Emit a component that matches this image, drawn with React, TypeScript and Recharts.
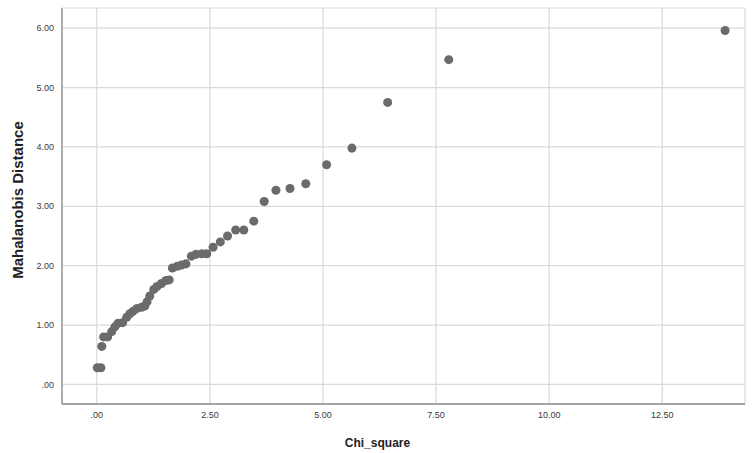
import React from "react";
import {
  ScatterChart,
  Scatter,
  XAxis,
  YAxis,
  ZAxis,
  CartesianGrid,
} from "recharts";

// values
const chiSquare = [
  0.01, 0.09, 0.11, 0.15, 0.24, 0.33, 0.4, 0.47, 0.57, 0.66, 0.73, 0.8, 0.89,
  0.99, 1.06, 1.11, 1.17, 1.26, 1.33, 1.43, 1.53, 1.6, 1.67, 1.78, 1.87, 1.97,
  2.09, 2.19, 2.32, 2.43, 2.57, 2.73, 2.89, 3.07, 3.25, 3.47, 3.7, 3.96, 4.27,
  4.62, 5.08, 5.64, 6.43, 7.78, 13.89,
];
const mahalanobis = [
  0.28, 0.28, 0.64, 0.8, 0.8, 0.89, 0.97, 1.03, 1.04, 1.13, 1.19, 1.23, 1.28,
  1.3, 1.32, 1.39, 1.49, 1.6, 1.65, 1.7, 1.75, 1.76, 1.96, 1.99, 2.01, 2.03,
  2.16, 2.19, 2.2, 2.2, 2.31, 2.4, 2.5, 2.6, 2.6, 2.75, 3.08, 3.27, 3.3, 3.38,
  3.7, 3.98, 4.75, 5.47, 5.96,
];
const xTicks = [0, 2.5, 5, 7.5, 10, 12.5];
const yTicks = [0, 1, 2, 3, 4, 5, 6];

const FONT = "'Liberation Sans', Arial, sans-serif";

// SPSS style: ".00" instead of "0.00"
const fmt = (v: number) => v.toFixed(2).replace(/^0\./, ".");

export default function App() {
  const data = chiSquare.map((x, i) => ({ x, y: mahalanobis[i] }));

  return (
    <div style={{ position: "absolute", left: 0, top: 0 }}>
      <ScatterChart
        width={755}
        height={453}
        margin={{ top: 8, right: 10, bottom: 0, left: 0 }}
        style={{ fontFamily: FONT, background: "#fff" }}
      >
        <CartesianGrid stroke="#d9d9d9" strokeWidth={1.2} />
        <XAxis
          type="number"
          dataKey="x"
          domain={[-0.77, 14.33]}
          ticks={xTicks}
          tickFormatter={fmt}
          tickLine={false}
          axisLine={{ stroke: "#8c8c8c", strokeWidth: 1.3 }}
          tick={{ fontSize: 9, fill: "#3a3a3a" }}
          height={49}
          allowDataOverflow
          label={{
            value: "Chi_square",
            position: "insideBottom",
            offset: 6,
            dx: -26,
            style: { fontSize: 12, fontWeight: "bold", fill: "#222" },
          }}
        />
        <YAxis
          type="number"
          dataKey="y"
          domain={[-0.33, 6.34]}
          ticks={yTicks}
          tickFormatter={fmt}
          tickLine={false}
          axisLine={{ stroke: "#8c8c8c", strokeWidth: 1.3 }}
          tick={{ fontSize: 9, fill: "#3a3a3a" }}
          width={62}
          allowDataOverflow
          label={{
            value: "Mahalanobis Distance",
            angle: -90,
            position: "insideLeft",
            offset: 18,
            dy: -6,
            style: {
              fontSize: 15,
              fontWeight: "bold",
              fill: "#222",
              textAnchor: "middle",
            },
          }}
        />
        <ZAxis range={[40, 40]} />
        <Scatter
          data={data}
          fill="#6b6b6b"
          shape="circle"
          isAnimationActive={false}
        />
      </ScatterChart>
    </div>
  );
}
